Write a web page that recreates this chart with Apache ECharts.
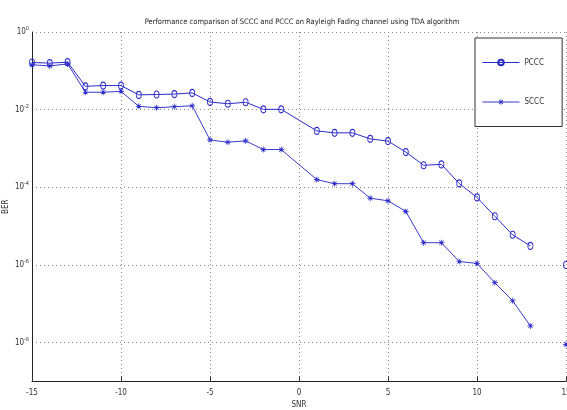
<!DOCTYPE html>
<html>
<head>
<meta charset="utf-8">
<script src="https://cdn.jsdelivr.net/npm/echarts@6/dist/echarts.min.js"></script>
<style>html,body{margin:0;padding:0;background:#fff;}#c{width:567px;height:410px;}</style>
</head>
<body>
<div id="c"></div>
<script>
const snr = [-15,-14,-13,-12,-11,-10,-9,-8,-7,-6,-5,-4,-3,-2,-1,1,2,3,4,5,6,7,8,9,10,11,12,13,14,15];
const pccc = [0.164,0.158,0.167,0.040,0.0417,0.0417,0.024,0.0246,0.0252,0.027,0.0158,0.0142,0.0155,0.0102,0.0102,
              0.00284,0.00253,0.00253,0.00177,0.00155,0.00081,0.00037,0.00039,0.000126,5.5e-5,1.8e-5,6.0e-6,3.1e-6,null,1e-6];
const sccc = [0.143,0.134,0.151,0.0281,0.0281,0.0296,0.0122,0.0112,0.0119,0.0126,0.00166,0.00145,0.00157,0.00094,0.00094,
              0.000158,0.000124,0.000124,5.25e-5,4.5e-5,2.4e-5,3.75e-6,3.75e-6,1.23e-6,1.1e-6,3.5e-7,1.2e-7,2.7e-8,null,9e-9];
const seriesNames = ['PCCC','SCCC'];
const titleText = 'Performance comparison of SCCC and PCCC on Rayleigh Fading channel using TDA algorithm';

const FONT = "'Liberation Sans Narrow','DejaVu Sans Condensed','Liberation Sans',sans-serif";
const BLUE = '#2a2ac8';
const star = 'path://M-0.6,-5L0.6,-5L0.6,5L-0.6,5Z M-5,-0.6L5,-0.6L5,0.6L-5,0.6Z M-3.9,-3.1L-3.1,-3.9L3.9,3.1L3.1,3.9Z M3.1,-3.9L3.9,-3.1L-3.1,3.9L-3.9,3.1Z';

const toPairs = arr => snr.map((x, i) => [x, arr[i]]);

const chart = echarts.init(document.getElementById('c'), null, {renderer: 'canvas'});
chart.setOption({
  backgroundColor: '#fff',
  animation: false,
  title: {
    text: titleText, left: 297, top: 13, textAlign: 'center',
    textStyle: {fontFamily: FONT, fontSize: 7.5, fontWeight: 'normal', color: '#222'}
  },
  legend: {
    orient: 'vertical', left: 475, top: 38,
    itemWidth: 37, itemHeight: 7, itemGap: 31.5,
    padding: [20.5, 18, 20.5, 7],
    borderColor: '#333', borderWidth: 1, backgroundColor: '#fff',
    lineStyle: {width: 1},
    textStyle: {fontFamily: FONT, fontSize: 8, color: '#333'},
    data: seriesNames
  },
  grid: {left: 32, right: 1, top: 32, bottom: 28.5, containLabel: false, outerBoundsMode: 'none'},
  xAxis: {
    type: 'value', min: -15, max: 15, interval: 5,
    name: 'SNR', nameLocation: 'middle', nameGap: 19, nameMoveOverlap: false,
    nameTextStyle: {fontFamily: FONT, fontSize: 8, color: '#333'},
    axisLine: {show: true, onZero: false, lineStyle: {color: '#222', width: 1}},
    axisTick: {show: true, inside: true, length: 5, lineStyle: {color: '#333'}},
    axisLabel: {fontFamily: FONT, fontSize: 8, color: '#333', margin: 7},
    splitLine: {show: true, showMinLine: false, lineStyle: {color: '#888', type: [1, 3], width: 1}}
  },
  yAxis: {
    type: 'log', logBase: 10, min: 1e-9, max: 1, interval: 1,
    name: 'BER', nameLocation: 'middle', nameGap: 22, nameRotate: 90, nameMoveOverlap: false,
    nameTextStyle: {fontFamily: FONT, fontSize: 8, color: '#333'},
    axisLine: {show: true, onZero: false, lineStyle: {color: '#222', width: 1}},
    axisTick: {show: false},
    axisLabel: {
      margin: 3,
      formatter: v => {
        const e = Math.round(Math.log10(v));
        if (e % 2 !== 0) return '';
        return '{b|10}{s|' + e + '}';
      },
      rich: {
        b: {fontFamily: FONT, fontSize: 8, color: '#333'},
        s: {fontFamily: FONT, fontSize: 5.5, color: '#333', padding: [0, 0, 7, 0]}
      }
    },
    splitLine: {show: true, showMinLine: false, lineStyle: {color: ['#888', 'rgba(0,0,0,0)'], type: [1, 3], width: 1}}
  },
  series: [
    {
      name: seriesNames[0], type: 'line', data: toPairs(pccc), connectNulls: false,
      symbol: 'circle', symbolSize: [5, 7], showAllSymbol: true,
      lineStyle: {color: BLUE, width: 1},
      itemStyle: {color: 'rgba(0,0,0,0)', borderColor: BLUE, borderWidth: 1}
    },
    {
      name: seriesNames[1], type: 'line', data: toPairs(sccc), connectNulls: false,
      symbol: star, symbolSize: 6, showAllSymbol: true,
      lineStyle: {color: '#3a3acc', width: 1},
      itemStyle: {color: BLUE}
    }
  ]
});
</script>
</body>
</html>
